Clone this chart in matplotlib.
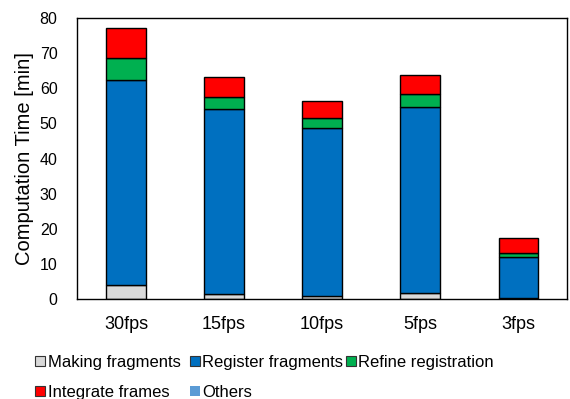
import matplotlib
matplotlib.use("Agg")
import matplotlib.pyplot as plt
import numpy as np
from matplotlib.patches import Patch

plt.rcParams["font.family"] = ["Liberation Sans", "DejaVu Sans"]

# Per-stage computation time for each frame rate (minutes)
rates = ["30fps", "15fps", "10fps", "5fps", "3fps"]
making = [4.0, 1.5, 0.9, 1.6, 0.3]
register = [58.4, 52.5, 47.9, 53.2, 11.6]
refine = [6.2, 3.4, 2.7, 3.5, 1.1]
integrate = [8.7, 5.8, 5.0, 5.6, 4.3]
others = [0.0, 0.0, 0.0, 0.0, 0.0]

stages = ["Making fragments", "Register fragments", "Refine registration",
          "Integrate frames", "Others"]
colors = ["#D9D9D9", "#0070C0", "#00B050", "#FF0000", "#5B9BD5"]

fig = plt.figure(figsize=(5.7, 3.99), dpi=100)
ax = fig.add_axes([0.135, 0.2506, 0.86, 0.704])

x = np.arange(len(rates))
bottom = np.zeros(len(rates))
for vals, col, name in zip([making, register, refine, integrate, others], colors, stages):
    edge = "none" if name == "Others" else "black"
    ax.bar(x, vals, width=0.4, bottom=bottom, color=col, edgecolor=edge, linewidth=1.0)
    bottom += np.array(vals)

ax.set_xlim(-0.5, len(rates) - 0.5)
ax.set_ylim(0, 80)
ax.set_yticks(np.arange(0, 81, 10))
ax.set_xticks(x)
ax.set_xticklabels(rates, fontsize=13)
ax.tick_params(axis="y", labelsize=11.5, length=0, pad=14)
ax.tick_params(axis="x", length=0, pad=12)
ax.set_ylabel("Computation Time [min]", fontsize=14.5, labelpad=4)
for s in ax.spines.values():
    s.set_linewidth(1.0)

# legend: three equal-width columns, filled row by row
handles = [Patch(facecolor=c, edgecolor=("none" if n == "Others" else "#333333"), linewidth=0.8)
           for c, n in zip(colors, stages)]
columns = [[0, 3], [1, 4], [2]]
col_x = [35, 190, 346]
for idx, cx in zip(columns, col_x):
    fig.legend([handles[i] for i in idx], [stages[i] for i in idx],
               loc="upper left", bbox_to_anchor=(cx / 570, 1 - 355 / 399), ncol=1,
               frameon=False, fontsize=12, handlelength=0.6, handleheight=0.6,
               handletextpad=0.15, labelspacing=0.9, borderaxespad=0, borderpad=0)

fig.savefig("out.png", dpi=100)
